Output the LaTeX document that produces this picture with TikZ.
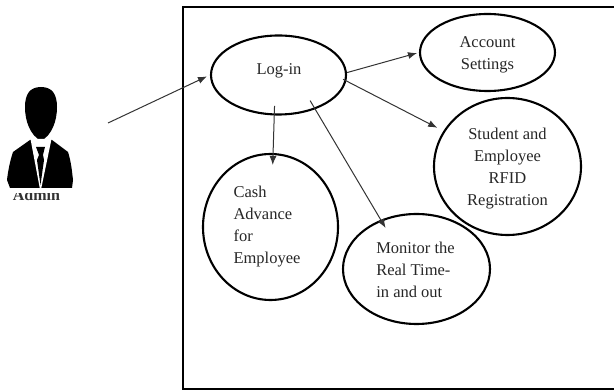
\documentclass[tikz,border=0pt]{standalone}
\usepackage{fontspec}
\setmainfont{Liberation Serif}
\usetikzlibrary{positioning,shapes,calc,arrows.meta}

\begin{document}
\begin{tikzpicture}[>={Latex[length=9bp,width=7bp]},line join=bevel,
    usecase/.style={draw,ellipse,line width=2.1bp,inner sep=0pt},
    casetext/.style={inner sep=0pt,align=left,text=black!85,font=\fontsize{16.5bp}{22bp}\selectfont},
    link/.style={->,line width=1bp,black!80}]
  \useasboundingbox (0bp,0bp) rectangle (614bp,391bp);
  % Frame
  \draw [line width=2.4bp,line join=miter] (614bp,384bp) -- (183bp,384bp) -- (183bp,2bp) -- (614bp,2bp);
  % Node: admin
  \node (admin) at (36.5bp,196bp) [casetext,text=black!80,font=\fontsize{16bp}{18bp}\selectfont\bfseries] {Admin};
  \fill [white] (0bp,197.5bp) rectangle (80bp,310bp);
  \fill [black] (41bp,304bp) .. controls (30bp,304bp) and (25bp,297bp) .. (25bp,284bp)
     .. controls (25bp,270bp) and (30bp,256bp) .. (41bp,250bp)
     .. controls (52bp,256bp) and (57bp,270bp) .. (57bp,284bp)
     .. controls (57bp,297bp) and (52bp,304bp) .. (41bp,304bp) -- cycle;
  \fill [black] (30bp,251bp) -- (13bp,239bp) .. controls (10bp,230bp) and (8bp,220bp) .. (7bp,211bp)
     -- (10bp,203bp) -- (72bp,203bp) -- (73bp,211bp) .. controls (72bp,220bp) and (71bp,230bp) .. (68bp,239bp)
     -- (52bp,251bp) -- cycle;
  \fill [white] (30.5bp,252bp) -- (51.5bp,252bp) -- (40.5bp,199bp) -- cycle;
  \fill [black] (36bp,244bp) -- (45bp,244bp) -- (43bp,236bp) -- (44bp,231bp) -- (40.5bp,206bp) -- (37bp,231bp) -- (39bp,236bp) -- cycle;
  % Nodes
  \node (login) at (278.5bp,316bp) [usecase,minimum width=135bp,minimum height=79bp] {};
  \node (logintext) at (279bp,320.5bp) [casetext] {Log-in};
  \node (account) at (487.5bp,338.5bp) [usecase,minimum width=135bp,minimum height=77bp] {};
  \node (accounttext) at (487.5bp,336.5bp) [casetext,align=center] {Account\\Settings};
  \node (student) at (507.5bp,224.5bp) [usecase,minimum width=147bp,minimum height=137bp] {};
  \node (studenttext) at (507.5bp,222.5bp) [casetext,align=center] {Student and\\Employee\\RFID\\Registration};
  \node (monitor) at (416.5bp,122bp) [usecase,minimum width=147bp,minimum height=110bp] {};
  \node (monitortext) at (415.5bp,121.5bp) [casetext] {Monitor the\\Real Time-\\in and out};
  \node (cash) at (270.5bp,164bp) [usecase,minimum width=135bp,minimum height=146bp] {};
  \node (cashtext) at (267bp,164.5bp) [casetext] {Cash\\Advance\\for\\Employee};
  \coordinate (actorend) at (108bp,268bp);
  % Edges
  \draw [link,shorten >=3.3bp] (actorend) -- (login.180.5);
  \draw [link,shorten >=2bp] (login.2) -- (account.180);
  \draw [link,shorten <=-3.5bp,shorten >=7bp] (login.-5.5) -- (student.151.2);
  \draw [link,shorten <=-9.5bp,shorten >=-12bp] (login.-96) -- (cash.88);
  \draw [link,shorten <=-10bp,shorten >=-9.5bp] (login.-43.3) -- (monitor.126.3);
\end{tikzpicture}
\end{document}
